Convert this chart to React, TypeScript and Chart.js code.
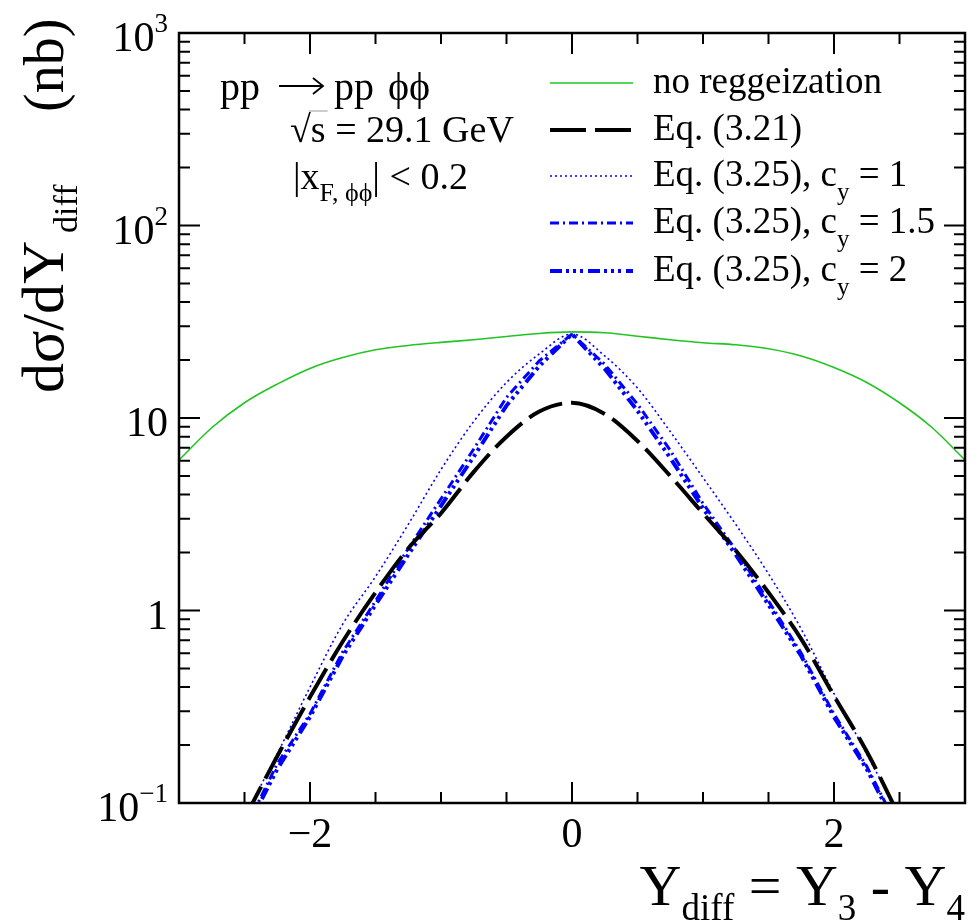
import React, { useEffect, useRef } from "react";
import { Chart, registerables } from "chart.js";

Chart.register(...registerables);

const FONT = '"Liberation Serif", "Times New Roman", serif';
const W = 977;
const H = 923;

// Rapidity difference Y_diff = Y_3 - Y_4
const yDiff = [
  -3, -2.75, -2.5, -2.25, -2, -1.75, -1.5, -1.25, -1, -0.75, -0.5, -0.25, 0,
  0.25, 0.5, 0.75, 1, 1.25, 1.5, 1.75, 2, 2.25, 2.5, 2.75, 3,
];

// dσ/dY_diff in nb
const noReggeization = [
  6.05, 8.9, 12.0, 15.0, 18.1, 20.6, 22.6, 23.8, 24.7, 25.5, 26.5, 27.5, 28.0,
  27.7, 26.6, 25.5, 24.6, 24.0, 22.9, 21.0, 18.3, 15.3, 12.0, 8.9, 6.05,
];
const eq321 = [
  null, null, 0.083, 0.175, 0.355, 0.69, 1.24, 2.1, 3.2, 5.25, 8.0, 10.8, 12.0,
  10.5, 7.6, 5.0, 3.2, 2.05, 1.24, 0.71, 0.36, 0.185, 0.085, null, null,
];
const eq325cy1 = [
  null, null, 0.085, 0.18, 0.4, 0.85, 1.5, 2.8, 5.4, 9.6, 15.3, 21.5, 27.3,
  21.0, 14.3, 8.5, 4.9, 2.8, 1.55, 0.8, 0.37, 0.18, 0.085, null, null,
];
const eq325cy15 = [
  null, null, 0.072, 0.16, 0.29, 0.61, 1.12, 2.1, 3.8, 6.9, 12.8, 19.8, 27.3,
  19.0, 11.8, 6.8, 3.6, 2.06, 1.12, 0.6, 0.29, 0.155, 0.072, null, null,
];
const eq325cy2 = [
  null, null, 0.07, 0.15, 0.28, 0.58, 1.07, 1.95, 3.5, 6.3, 11.6, 18.6, 27.3,
  18.0, 10.9, 6.2, 3.4, 1.95, 1.07, 0.58, 0.28, 0.15, 0.07, null, null,
];

const xTickLabels = [
  { v: -2, t: "\u22122" },
  { v: 0, t: "0" },
  { v: 2, t: "2" },
];
const yTickLabels = [
  { v: 1000, base: "10", exp: "3" },
  { v: 100, base: "10", exp: "2" },
  { v: 10, base: "10", exp: "" },
  { v: 1, base: "1", exp: "" },
  { v: 0.1, base: "10", exp: "\u22121" },
];

const GREEN = "#22c422";
const BLUE = "#0000ff";

type Style = { color: string; width: number; dash: number[] };
const styles: Record<string, Style> = {
  green: { color: GREEN, width: 1.6, dash: [] },
  black: { color: "#000", width: 4, dash: [36, 9] },
  dot: { color: BLUE, width: 1.6, dash: [2, 3] },
  dashDot: { color: BLUE, width: 3, dash: [9, 4, 2, 4] },
  dash3Dot: { color: BLUE, width: 4, dash: [12, 4, 3, 4, 3, 4, 3, 5] },
};

type Seg = { t: string; size: number; dy?: number; dx?: number };

function richWidth(ctx: CanvasRenderingContext2D, segs: Seg[]) {
  let w = 0;
  for (const s of segs) {
    ctx.font = `${s.size}px ${FONT}`;
    w += ctx.measureText(s.t).width + (s.dx || 0);
  }
  return w;
}

function drawRich(
  ctx: CanvasRenderingContext2D,
  segs: Seg[],
  x: number,
  y: number,
  align: "left" | "right" | "center"
) {
  const total = richWidth(ctx, segs);
  let cx = align === "left" ? x : align === "right" ? x - total : x - total / 2;
  ctx.textAlign = "left";
  ctx.textBaseline = "alphabetic";
  for (const s of segs) {
    ctx.font = `${s.size}px ${FONT}`;
    cx += s.dx || 0;
    ctx.fillText(s.t, cx, y + (s.dy || 0));
    cx += ctx.measureText(s.t).width;
  }
  return cx;
}

const LF = 37;
const cy = (rest: string): Seg[] => [
  { t: "Eq. (3.25), c", size: LF },
  { t: "y", size: 25, dy: 14 },
  { t: " = " + rest, size: LF },
];
const legendRows: { key: string; segs: Seg[] }[] = [
  { key: "green", segs: [{ t: "no reggeization", size: LF }] },
  { key: "black", segs: [{ t: "Eq. (3.21)", size: LF }] },
  { key: "dot", segs: cy("1") },
  { key: "dashDot", segs: cy("1.5") },
  { key: "dash3Dot", segs: cy("2") },
];

const decorations = {
  id: "decorations",
  beforeDraw(chart: any) {
    const ctx = chart.ctx as CanvasRenderingContext2D;
    ctx.save();
    ctx.fillStyle = "#fff";
    ctx.fillRect(0, 0, chart.width, chart.height);
    ctx.restore();
  },
  afterDraw(chart: any) {
    const ctx = chart.ctx as CanvasRenderingContext2D;
    const a = chart.chartArea;
    const xs = chart.scales.x;
    const ys = chart.scales.y;
    ctx.save();
    ctx.strokeStyle = "#000";
    ctx.fillStyle = "#000";
    ctx.setLineDash([]);

    // ticks on the x axes (bottom and top), pointing inwards
    ctx.lineWidth = 2;
    for (let i = 0; i <= 12; i++) {
      const v = -3 + i * 0.5;
      const px = xs.getPixelForValue(v);
      const major = v === -2 || v === 0 || v === 2;
      const len = major ? 21 : 11;
      ctx.beginPath();
      ctx.moveTo(px, a.bottom);
      ctx.lineTo(px, a.bottom - len);
      ctx.moveTo(px, a.top);
      ctx.lineTo(px, a.top + len);
      ctx.stroke();
    }
    // ticks on the y axes (left and right)
    for (let d = -1; d <= 3; d++) {
      for (let m = 1; m <= 9; m++) {
        if (d === 3 && m > 1) break;
        const v = m * Math.pow(10, d);
        const py = ys.getPixelForValue(v);
        const len = m === 1 ? 21 : 11;
        ctx.beginPath();
        ctx.moveTo(a.left, py);
        ctx.lineTo(a.left + len, py);
        ctx.moveTo(a.right, py);
        ctx.lineTo(a.right - len, py);
        ctx.stroke();
      }
    }
    // frame
    ctx.lineWidth = 2.5;
    ctx.strokeRect(a.left, a.top, a.right - a.left, a.bottom - a.top);

    // x tick labels
    for (const t of xTickLabels) {
      drawRich(ctx, [{ t: t.t, size: 42 }], xs.getPixelForValue(t.v), 847, "center");
    }
    // y tick labels
    for (const t of yTickLabels) {
      const py = ys.getPixelForValue(t.v) + 18;
      const segs: Seg[] = [{ t: t.base, size: 42 }];
      if (t.exp) segs.push({ t: t.exp, size: 27, dy: -19 });
      drawRich(ctx, segs, 168, py, "right");
    }

    // x axis title
    drawRich(
      ctx,
      [
        { t: "Y", size: 58 },
        { t: "diff", size: 37, dy: 15 },
        { t: " = Y", size: 58 },
        { t: "3", size: 37, dy: 15 },
        { t: " - Y", size: 58 },
        { t: "4", size: 37, dy: 15 },
      ],
      965,
      905,
      "right"
    );

    // y axis title (rotated, reading upwards)
    ctx.save();
    ctx.translate(63, 393);
    ctx.rotate(-Math.PI / 2);
    drawRich(ctx, [{ t: "d\u03c3/dY", size: 60 }], 0, 0, "left");
    drawRich(ctx, [{ t: "diff", size: 34 }], 160, 14, "left");
    drawRich(ctx, [{ t: "(nb)", size: 56 }], 281, 0, "left");
    ctx.restore();

    // process annotation
    drawRich(ctx, [{ t: "pp", size: 40 }], 220, 100, "left");
    ctx.lineWidth = 1.8;
    ctx.strokeStyle = "#000";
    ctx.beginPath();
    ctx.moveTo(279, 86);
    ctx.lineTo(323, 86);
    ctx.moveTo(313, 78);
    ctx.lineTo(323, 86);
    ctx.lineTo(313, 94);
    ctx.stroke();
    drawRich(ctx, [{ t: "pp", size: 40 }], 334, 100, "left");
    drawRich(ctx, [{ t: "\u03d5\u03d5", size: 40 }], 388, 100, "left");

    drawRich(ctx, [{ t: "\u221a", size: 38 }], 290, 142, "left");
    ctx.font = `38px ${FONT}`;
    const sqrtW = ctx.measureText("\u221a").width;
    const sW = ctx.measureText("s").width;
    ctx.lineWidth = 1;
    ctx.strokeStyle = "#999";
    ctx.beginPath();
    ctx.moveTo(290 + sqrtW - 2, 111);
    ctx.lineTo(290 + sqrtW + sW + 2, 111);
    ctx.stroke();
    drawRich(ctx, [{ t: "s = 29.1 GeV", size: 38 }], 290 + sqrtW, 142, "left");
    drawRich(
      ctx,
      [
        { t: "|x", size: 38 },
        { t: "F, \u03d5\u03d5", size: 26, dy: 12 },
        { t: "| < 0.2", size: 38 },
      ],
      293,
      189,
      "left"
    );

    // legend
    const rowBase = [93, 140, 186, 233, 281];
    legendRows.forEach((row, i) => {
      const st = styles[row.key];
      const ly = rowBase[i] - 10;
      ctx.strokeStyle = st.color;
      ctx.lineWidth = st.width;
      ctx.setLineDash(st.dash);
      ctx.beginPath();
      ctx.moveTo(550, ly);
      ctx.lineTo(633, ly);
      ctx.stroke();
      ctx.setLineDash([]);
      ctx.fillStyle = "#000";
      drawRich(ctx, row.segs, 653, rowBase[i], "left");
    });
    ctx.restore();
  },
};

function series(values: (number | null)[]) {
  return yDiff.map((x, i) => ({ x, y: values[i] }));
}

export default function App() {
  const ref = useRef<HTMLCanvasElement | null>(null);
  useEffect(() => {
    if (!ref.current) return;
    const mk = (key: string, data: (number | null)[], mono: boolean, order: number) => {
      const st = styles[key];
      return {
        data: series(data),
        borderColor: st.color,
        borderWidth: st.width,
        borderDash: st.dash,
        pointRadius: 0,
        fill: false,
        clip: 0,
        order,
        tension: mono ? 0.4 : 0,
        cubicInterpolationMode: mono ? "monotone" : "default",
        spanGaps: false,
      };
    };
    const chart = new Chart(ref.current, {
      type: "line",
      data: {
        datasets: [
          mk("green", noReggeization, true, 5),
          mk("dot", eq325cy1, true, 4),
          mk("dashDot", eq325cy15, false, 3),
          mk("dash3Dot", eq325cy2, false, 2),
          mk("black", eq321, true, 1),
        ] as any,
      },
      options: {
        animation: false,
        responsive: false,
        devicePixelRatio: 1,
        layout: { padding: { left: 179, top: 33, right: 12, bottom: 120 } },
        plugins: { legend: { display: false }, tooltip: { enabled: false } },
        scales: {
          x: { type: "linear", min: -3, max: 3, display: false },
          y: { type: "logarithmic", min: 0.1, max: 1000, display: false },
        },
      },
      plugins: [decorations],
    });
    return () => chart.destroy();
  }, []);
  return (
    <div style={{ position: "fixed", left: 0, top: 0, width: W, height: H, background: "#fff" }}>
      <canvas ref={ref} width={W} height={H} style={{ width: W, height: H }} />
    </div>
  );
}
